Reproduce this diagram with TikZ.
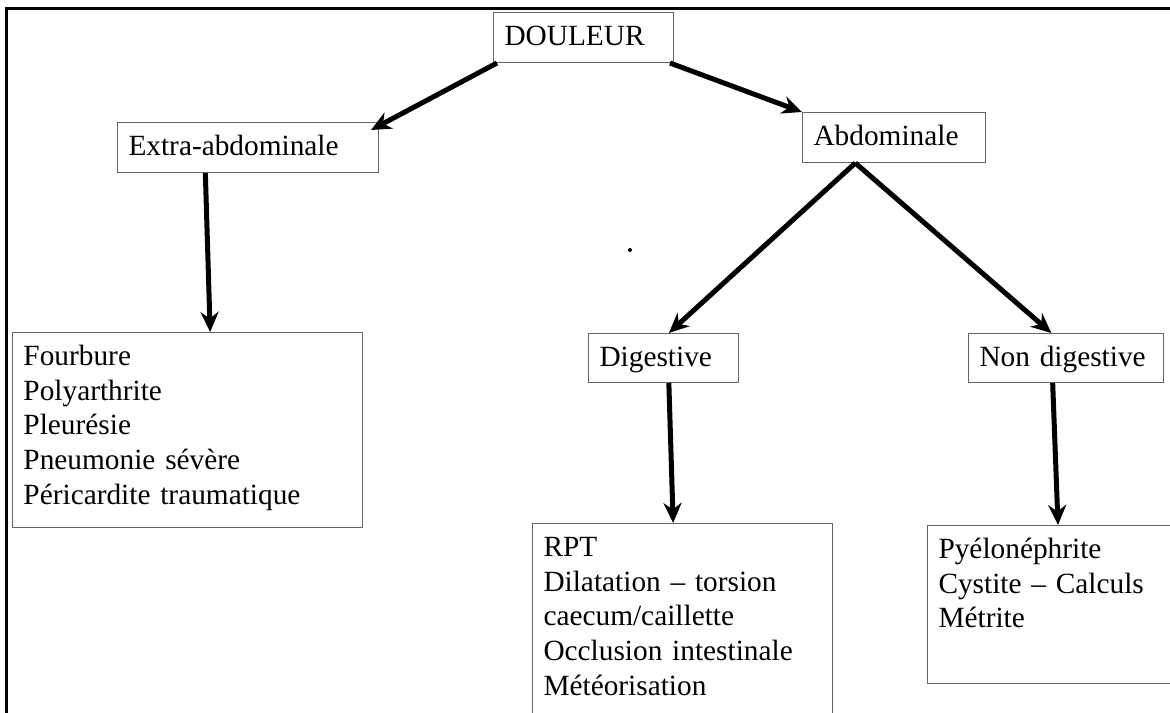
\documentclass[tikz,border=0pt]{standalone}
\usepackage{fontspec}
\setmainfont{Liberation Serif}
\usetikzlibrary{arrows.meta}

\begin{document}
\begin{tikzpicture}[x=0.75pt,y=-0.75pt,>={Stealth[length=15pt,width=13.5pt]},
		box/.style={draw=black!60,line width=0.75pt,anchor=north west,inner xsep=8.25pt,inner ysep=0pt,align=left,text height=24.75pt,font=\fontsize{22pt}{26pt}\selectfont},
		arr/.style={->,line width=3.75pt}]
		\useasboundingbox (0,0) rectangle (1170,713);
		\clip (0,0) rectangle (1170,713);
		\draw[line width=2.25pt] (6,720) -- (6,9) -- (1180,9);
		\node[box,text width=118.5pt,text depth=12.75pt] (douleur) at (493,12) {DOULEUR};
		\node[box,text width=179.25pt,text depth=12.75pt] (extra) at (117,122) {Extra-abdominale};
		\node[box,text width=120.75pt,text depth=12.75pt] (abdo) at (802,112) {Abdominale};
		\node[box,text width=96pt,text depth=12pt] (dig) at (588,333) {Digestive};
		\node[box,text width=129.75pt,text depth=12pt] (nondig) at (968,333) {Non digestive};
		\node[box,text width=246pt,text depth=121.5pt] (extralist) at (12,332) {Fourbure\\Polyarthrite\\Pleurésie\\Pneumonie sévère\\Péricardite traumatique};
		\node[box,text width=208.5pt,text depth=138pt] (diglist) at (532,523) {RPT\\Dilatation – torsion\\caecum/caillette\\Occlusion intestinale\\Météorisation};
		\node[box,text width=173.25pt,text depth=93.75pt] (nondiglist) at (927,525) {Pyélonéphrite\\Cystite – Calculs\\Métrite};
		\draw[arr] ([xshift=3pt]douleur.south west) -- ([shift={(-6pt,-6pt)}]extra.north east);
		\draw[arr] ([xshift=-3pt]douleur.south east) -- (abdo.north west);
		\draw[arr] ([xshift=-29pt]abdo.south) -- ([xshift=4pt]dig.north);
		\draw[arr] ([xshift=-29pt]abdo.south) -- ([xshift=-11pt]nondig.north);
		\draw[arr] ([xshift=-32pt]extra.south) -- ([xshift=17pt]extralist.north);
		\draw[arr] ([xshift=4pt]dig.south) -- ([xshift=-7pt]diglist.north);
		\draw[arr] ([xshift=-10pt]nondig.south) -- ([xshift=3pt]nondiglist.north);
		\fill (630,250) circle[radius=1.5pt];
	\end{tikzpicture}
\end{document}
